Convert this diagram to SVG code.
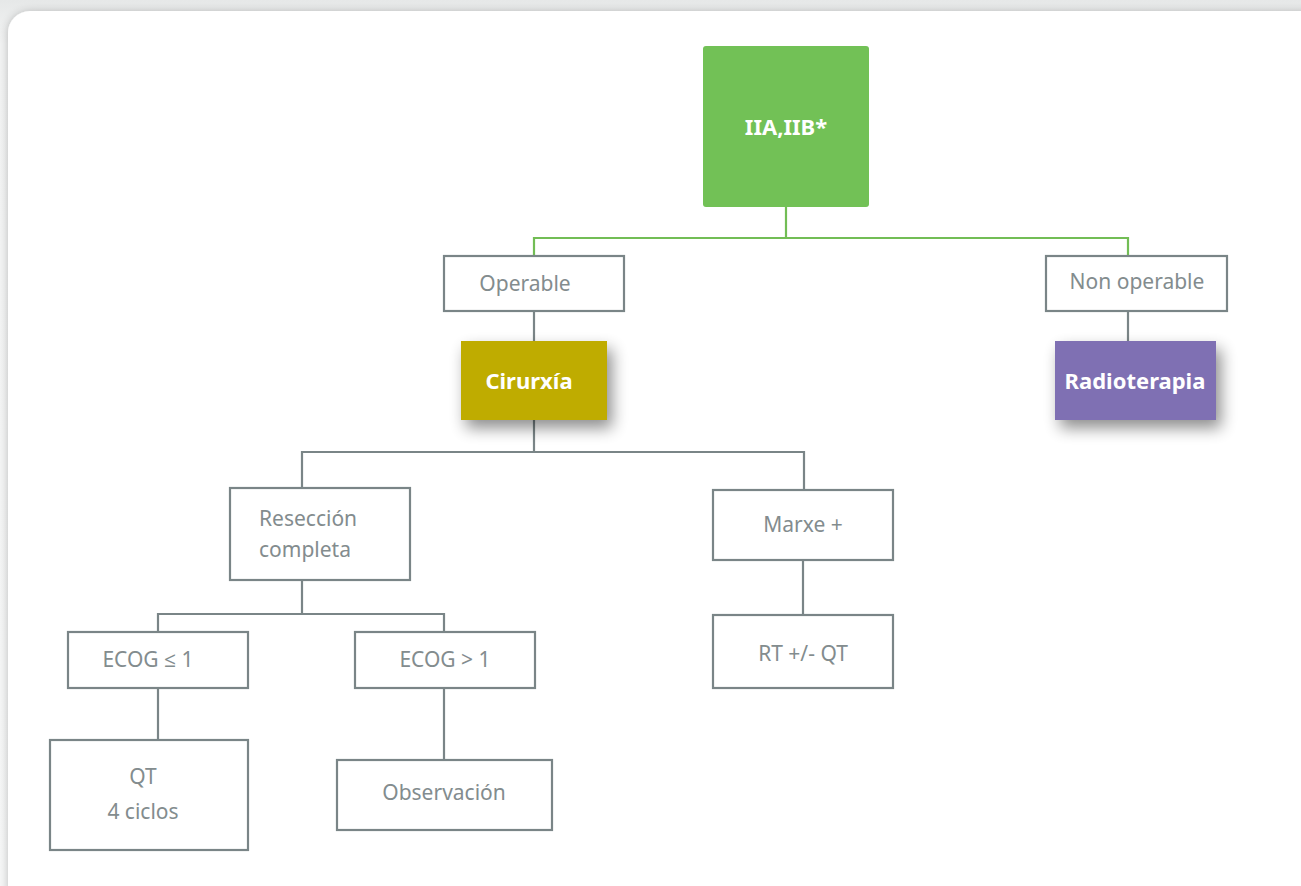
<svg xmlns="http://www.w3.org/2000/svg" width="1301" height="886" viewBox="0 0 1301 886">
<defs>
<linearGradient id="bg" x1="0" y1="0" x2="0" y2="1">
<stop offset="0" stop-color="#e6e8e8"/>
<stop offset="0.05" stop-color="#f3f4f4"/>
<stop offset="1" stop-color="#f7f8f8"/>
</linearGradient>
<filter id="card" x="-5%" y="-5%" width="110%" height="110%">
<feGaussianBlur in="SourceAlpha" stdDeviation="5"/>
<feOffset dx="0" dy="1"/>
<feComponentTransfer><feFuncA type="linear" slope="0.25"/></feComponentTransfer>
<feMerge><feMergeNode/><feMergeNode in="SourceGraphic"/></feMerge>
</filter>
<filter id="sh" x="-30%" y="-30%" width="170%" height="180%">
<feGaussianBlur in="SourceAlpha" stdDeviation="8"/>
<feOffset dx="5" dy="8"/>
<feComponentTransfer><feFuncA type="linear" slope="0.45"/></feComponentTransfer>
<feMerge><feMergeNode/><feMergeNode in="SourceGraphic"/></feMerge>
</filter>
<style>
.box{fill:#fff;stroke:#7a8587;stroke-width:2.2}
.t{font-family:"Noto Sans","Open Sans",sans-serif;font-size:21px;fill:#838c8e;text-anchor:middle}
.tb{font-family:"Noto Sans","Open Sans",sans-serif;font-size:22px;font-weight:bold;fill:#fff;text-anchor:middle}
.g{fill:none;stroke:#72bd55;stroke-width:2.2}
.k{fill:none;stroke:#7a8587;stroke-width:2.2}
</style>
</defs>
<rect x="0" y="0" width="1301" height="886" fill="url(#bg)"/>
<rect x="8" y="11" width="1330" height="900" rx="22" fill="#fff" filter="url(#card)"/>

<g id="connectors">
<path class="g" d="M786 207V238M534 257V238H1128V257"/>
<path class="k" d="M534 311V341M534 420V452M302 488V452H804V490M302 580V614M158 632V614H444V632M803 560V615M158 688V740M444 688V760M1128 311V341"/>
</g>

<g id="n-root">
<rect x="703" y="46" width="166" height="161" rx="3" fill="#72c156"/>
<text class="tb" x="786" y="135">IIA,IIB*</text>
</g>
<g id="n-operable">
<rect class="box" x="444" y="256" width="180" height="55"/>
<text class="t" x="525" y="291">Operable</text>
</g>
<g id="n-nonoperable">
<rect class="box" x="1046" y="256" width="181" height="55"/>
<text class="t" x="1137" y="289">Non operable</text>
</g>
<g id="n-cirurxia">
<rect x="461" y="341" width="146" height="79" fill="#bfac00" filter="url(#sh)"/>
<text class="tb" x="529" y="389">Cirurxía</text>
</g>
<g id="n-radioterapia">
<rect x="1055" y="341" width="161" height="79" fill="#7f6fb3" filter="url(#sh)"/>
<text class="tb" x="1135" y="389">Radioterapia</text>
</g>
<g id="n-reseccion">
<rect class="box" x="230" y="488" width="180" height="92"/>
<text class="t" x="259" y="526" style="text-anchor:start">Resección</text>
<text class="t" x="259" y="557" style="text-anchor:start">completa</text>
</g>
<g id="n-marxe">
<rect class="box" x="713" y="490" width="180" height="70"/>
<text class="t" x="803" y="532">Marxe +</text>
</g>
<g id="n-ecog1">
<rect class="box" x="68" y="632" width="180" height="56"/>
<text class="t" x="148" y="667">ECOG ≤ 1</text>
</g>
<g id="n-ecog2">
<rect class="box" x="355" y="632" width="180" height="56"/>
<text class="t" x="445" y="667">ECOG &gt; 1</text>
</g>
<g id="n-rtqt">
<rect class="box" x="713" y="615" width="180" height="73"/>
<text class="t" x="803" y="661">RT +/- QT</text>
</g>
<g id="n-qt">
<rect class="box" x="50" y="740" width="198" height="110"/>
<text class="t" x="143" y="784">QT</text>
<text class="t" x="143" y="819">4 ciclos</text>
</g>
<g id="n-observacion">
<rect class="box" x="337" y="760" width="215" height="70"/>
<text class="t" x="444" y="800">Observación</text>
</g>
</svg>
